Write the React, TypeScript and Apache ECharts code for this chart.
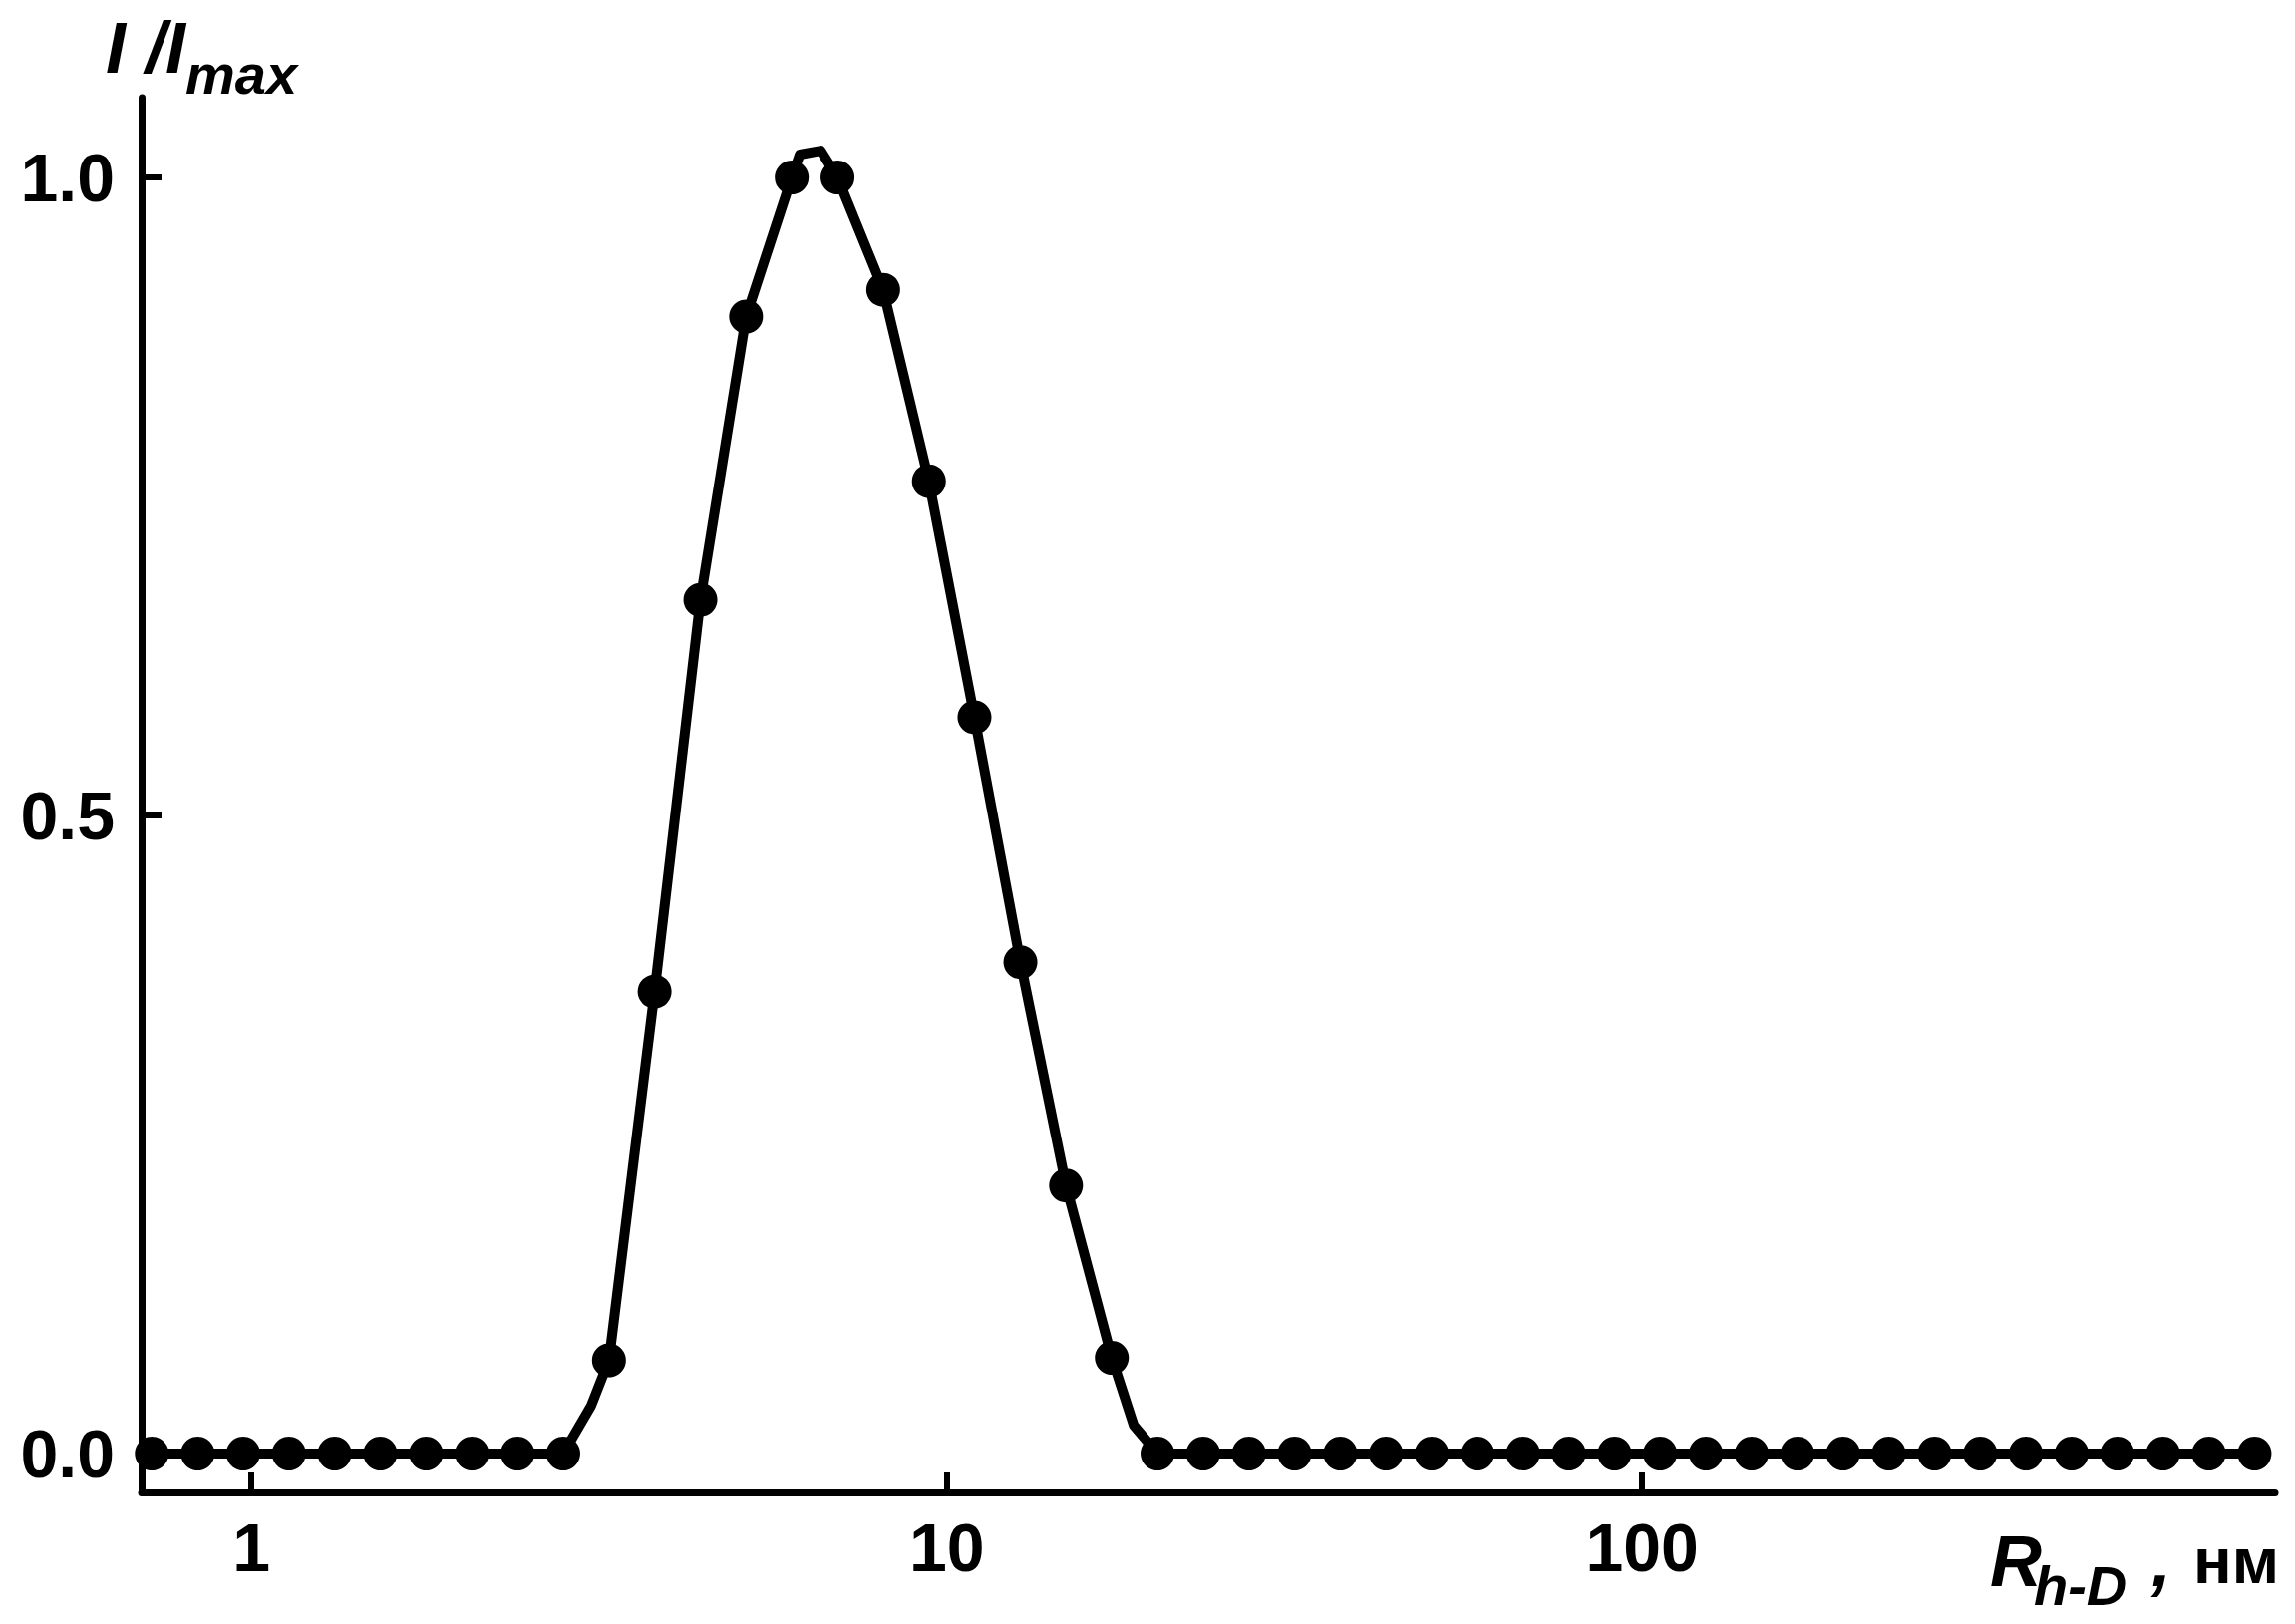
import React, { useEffect, useRef } from "react";
import * as echarts from "echarts";

// Hydrodynamic radius (nm) at each measured point (log-spaced bins)
const markerX = [
  0.719, 0.837, 0.973, 1.132, 1.317, 1.532, 1.783, 2.075, 2.414, 2.808,
  3.267, 3.8, 4.422, 5.144, 5.984, 6.963, 8.1, 9.424, 10.96, 12.76,
  14.84, 17.27, 20.09, 23.37, 27.19, 31.63, 36.8, 42.81, 49.8, 57.94,
  67.41, 78.43, 91.26, 106.1, 123.5, 143.7, 167.2, 194.5, 226.2, 263.3,
  306.3, 356.3, 414.6, 482.3, 561.1, 652.9, 759.6,
];
// Normalised intensity I/Imax at each point
const markerY = [
  0, 0, 0, 0, 0, 0, 0, 0, 0, 0,
  0.073, 0.362, 0.669, 0.891, 1.0, 1.0, 0.912, 0.762, 0.577, 0.385,
  0.21, 0.075, 0, 0, 0, 0, 0, 0, 0, 0,
  0, 0, 0, 0, 0, 0, 0, 0, 0, 0,
  0, 0, 0, 0, 0, 0, 0,
];
// Extra vertices of the drawn curve between measured points
const curveExtraX = [3.08, 6.145, 6.588, 18.57];
const curveExtraY = [0.0375, 1.018, 1.021, 0.022];

const xTickValues = [1, 10, 100];
const yTickValues = [0, 0.5, 1];

const FONT = "Liberation Sans";

export default function App() {
  const ref = useRef<HTMLDivElement>(null);

  useEffect(() => {
    if (!ref.current) return;
    const chart = echarts.init(ref.current, null, { renderer: "svg" });

    const markers = markerX.map((x, i) => [x, markerY[i]]);
    const curve = markers
      .concat(curveExtraX.map((x, i) => [x, curveExtraY[i]]))
      .sort((a, b) => a[0] - b[0]);

    const option: any = {
      animation: false,
      backgroundColor: "#ffffff",
      grid: { left: 142, right: 20, top: 98, bottom: 132, containLabel: false },
      xAxis: {
        type: "log",
        logBase: 10,
        min: 0.695,
        max: 813,
        axisLine: { show: true, onZero: false, lineStyle: { color: "#000", width: 7 } },
        axisTick: {
          show: true,
          inside: true,
          length: 20,
          lineStyle: { color: "#000", width: 6 },
          customValues: xTickValues,
        },
        axisLabel: {
          show: true,
          color: "#000",
          fontFamily: FONT,
          fontWeight: "bold",
          fontSize: 68,
          margin: 21,
          customValues: xTickValues,
          formatter: (v: number) => String(Math.round(v)),
        },
        splitLine: { show: false },
        minorTick: { show: false },
      },
      yAxis: {
        type: "value",
        min: -0.0305,
        max: 1.0625,
        axisLine: { show: true, onZero: false, lineStyle: { color: "#000", width: 7 } },
        axisTick: {
          show: true,
          inside: true,
          length: 20,
          lineStyle: { color: "#000", width: 6 },
          customValues: yTickValues,
        },
        axisLabel: {
          show: true,
          color: "#000",
          fontFamily: FONT,
          fontWeight: "bold",
          fontSize: 68,
          margin: 27,
          customValues: yTickValues,
          formatter: (v: number) => v.toFixed(1),
        },
        splitLine: { show: false },
      },
      graphic: [
        {
          type: "text",
          left: 106,
          top: 12,
          style: {
            text: "I /I",
            fontFamily: FONT,
            fontWeight: "bold",
            fontStyle: "italic",
            fontSize: 72,
            fill: "#000",
          },
        },
        {
          type: "text",
          left: 186,
          top: 46,
          style: {
            text: "max",
            fontFamily: FONT,
            fontWeight: "bold",
            fontStyle: "italic",
            fontSize: 56,
            fill: "#000",
          },
        },
        {
          type: "text",
          left: 1996,
          top: 1530,
          style: {
            text: "R",
            fontFamily: FONT,
            fontWeight: "bold",
            fontStyle: "italic",
            fontSize: 72,
            fill: "#000",
          },
        },
        {
          type: "text",
          left: 2040,
          top: 1562,
          style: {
            text: "h-D",
            fontFamily: FONT,
            fontWeight: "bold",
            fontStyle: "italic",
            fontSize: 56,
            fill: "#000",
          },
        },
        {
          type: "text",
          left: 2158,
          top: 1530,
          style: {
            text: ",",
            fontFamily: FONT,
            fontWeight: "bold",
            fontStyle: "italic",
            fontSize: 72,
            fill: "#000",
          },
        },
        {
          type: "text",
          left: 2200,
          top: 1534,
          style: {
            text: "нм",
            fontFamily: FONT,
            fontWeight: "bold",
            fontSize: 64,
            fill: "#000",
          },
        },
      ],
      series: [
        {
          type: "line",
          data: curve,
          showSymbol: false,
          symbol: "none",
          lineStyle: { color: "#000", width: 10, join: "round" },
          z: 2,
        },
        {
          type: "scatter",
          data: markers,
          symbol: "circle",
          symbolSize: 34,
          itemStyle: { color: "#000", opacity: 1 },
          z: 3,
        },
      ],
    };

    chart.setOption(option);
    return () => chart.dispose();
  }, []);

  return (
    <div
      ref={ref}
      style={{ position: "fixed", left: 0, top: 0, width: 2302, height: 1629, background: "#fff" }}
    />
  );
}
